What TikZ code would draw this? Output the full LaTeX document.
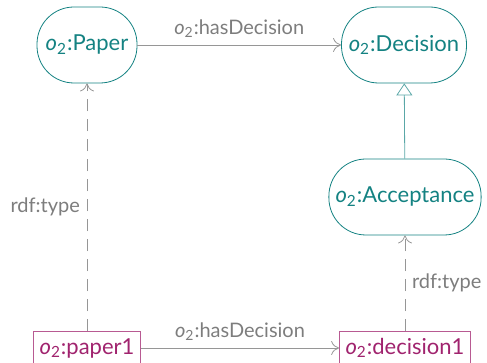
\documentclass[tikz,border=0pt]{standalone}
\usepackage{fontspec}
\setmainfont{Lato}
\definecolor{onto-teal}{RGB}{20,130,130}
\definecolor{inst-plum}{RGB}{160,35,110}
\definecolor{link-grey}{RGB}{150,150,150}
\definecolor{label-grey}{RGB}{125,125,125}
\usetikzlibrary{arrows.meta,positioning}
\newcommand{\otwo}{\textit{o}$_{\mathrm{2}}$}

\tikzset{
    class/.style={draw=onto-teal,text=onto-teal,rounded corners=18.5pt,
        minimum width=50pt,minimum height=38pt,font=\fontsize{11}{13}\selectfont},
    indiv/.style={draw=inst-plum!75,text=inst-plum,rectangle,
        minimum height=15pt,inner xsep=3pt,font=\fontsize{11}{13}\selectfont},
    prop/.style={draw=link-grey,-{To[length=4pt,width=7pt]}},
    isa/.style={draw=link-grey,dashed,dash pattern=on 6pt off 4pt,-{To[length=4pt,width=7pt]}},
    sub/.style={draw=onto-teal!70,-{Triangle[open,length=6pt,width=8pt]}},
    lbl/.style={text=label-grey,font=\fontsize{10}{12}\selectfont}
}

\begin{document}
\begin{tikzpicture}[x=0.5pt,y=0.5pt]
    \useasboundingbox (0,0) rectangle (487,363);
    % schema level
    \node[class] (paper) at (87,318) {\otwo:Paper};
    \node[class,minimum width=62.5pt] (decision) at (404,318) {\otwo:Decision};
    \node[class] (accept) at (405,166) {\otwo:Acceptance};
    % instance level
    \node[indiv] (paper1) at (87,15) {\otwo:paper1};
    \node[indiv] (decision1) at (405,15) {\otwo:decision1};
    %
    \draw[prop] (paper) -- node[lbl,above] {\otwo:hasDecision} (decision);
    \draw[sub] (accept) -- (decision);
    \draw[isa] (paper1) -- node[lbl,left] {rdf:type} (paper);
    \draw[isa] (decision1) -- node[lbl,right] {rdf:type} (accept);
    \draw[prop] (paper1) -- node[lbl,above] {\otwo:hasDecision} (decision1);
\end{tikzpicture}
\end{document}
